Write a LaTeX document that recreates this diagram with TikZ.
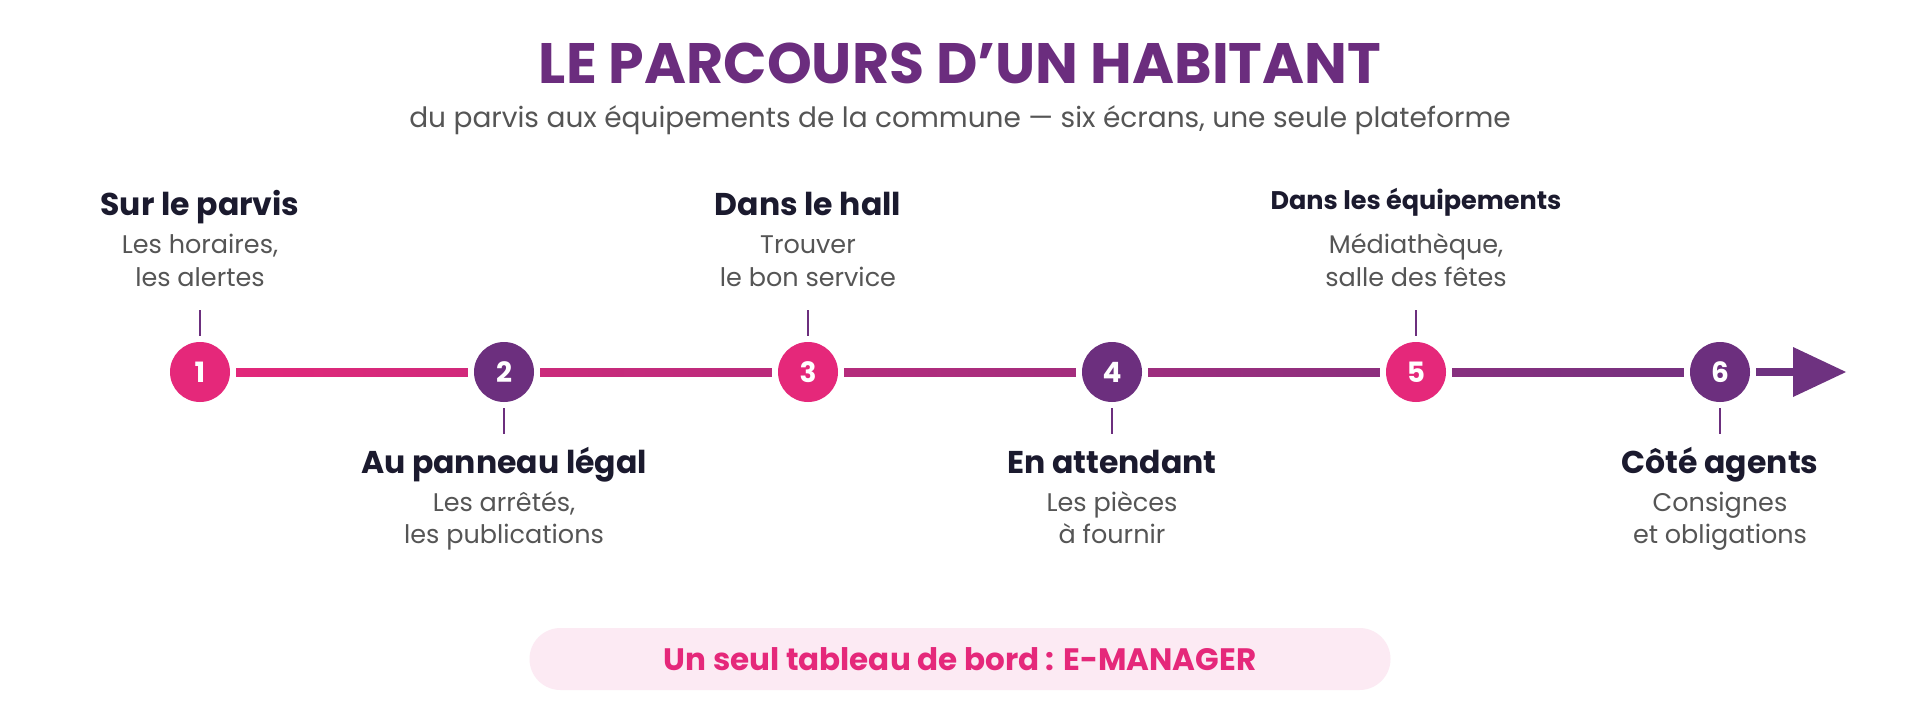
\documentclass[tikz,border=0pt]{standalone}
\usepackage{fontspec}
\setmainfont{Poppins}
\usetikzlibrary{calc}
\definecolor{brandpink}{RGB}{229,40,122}
\definecolor{brandpurple}{RGB}{108,47,126}
\definecolor{barpink}{RGB}{226,40,122}
\definecolor{barpurple}{RGB}{110,50,128}
\definecolor{titlepurple}{RGB}{107,45,126}
\definecolor{inkdark}{RGB}{27,26,46}
\definecolor{inkgray}{RGB}{85,85,85}
\definecolor{pillfill}{RGB}{252,234,243}
\tikzset{
  stepdot/.style={circle, minimum size=60pt, inner sep=0pt, text=white, font=\bfseries\fontsize{28}{30}\selectfont},
  pinkdot/.style={stepdot, fill=brandpink},
  purpledot/.style={stepdot, fill=brandpurple},
  steptitle/.style={anchor=base, text=inkdark, font=\bfseries\fontsize{31.5}{34}\selectfont, inner sep=0pt},
  smalltitle/.style={steptitle, font=\bfseries\fontsize{25.5}{28}\selectfont},
  stepdesc/.style={anchor=base, text=inkgray, font=\fontsize{25.5}{28}\selectfont, inner sep=0pt},
  ticker/.style={draw=brandpurple, line width=2.5pt},
}
\begin{document}
\begin{tikzpicture}[x=1pt,y=-1pt]
\useasboundingbox[fill=white] (0,0) rectangle (1920,720);

% title
\node[anchor=base, text=titlepurple, font=\bfseries\fontsize{57}{60}\selectfont, inner sep=0pt] (title) at (960,83) {LE PARCOURS D’UN HABITANT};
\node[anchor=base, text=inkgray, font=\fontsize{28}{31}\selectfont, inner sep=0pt] (subtitle) at (960,127) {du parvis aux équipements de la commune — six écrans, une seule plateforme};

% circles
\node[pinkdot]   (c1) at (200,372)  {1};
\node[purpledot] (c2) at (504,372)  {2};
\node[pinkdot]   (c3) at (808,372)  {3};
\node[purpledot] (c4) at (1112,372) {4};
\node[pinkdot]   (c5) at (1416,372) {5};
\node[purpledot] (c6) at (1720,372) {6};
\coordinate (ab) at (1793,372);
\coordinate (tip) at (1846,372);

% bar segments
\shade[left color=barpink!100!barpurple, right color=barpink!85!barpurple] ($(c1.east)+(6,-4)$) rectangle ($(c2.west)+(-6,4)$);
\shade[left color=barpink!80!barpurple, right color=barpink!66!barpurple] ($(c2.east)+(6,-4)$) rectangle ($(c3.west)+(-6,4)$);
\shade[left color=barpink!61!barpurple, right color=barpink!46!barpurple] ($(c3.east)+(6,-4)$) rectangle ($(c4.west)+(-6,4)$);
\shade[left color=barpink!41!barpurple, right color=barpink!26!barpurple] ($(c4.east)+(6,-4)$) rectangle ($(c5.west)+(-6,4)$);
\shade[left color=barpink!22!barpurple, right color=barpink!7!barpurple] ($(c5.east)+(6,-4)$) rectangle ($(c6.west)+(-6,4)$);
\fill[barpurple] ($(c6.east)+(6,-4)$) rectangle ($(ab)+(0,4)$);
\fill[barpurple] ($(ab)+(0,-25)$) -- (tip) -- ($(ab)+(0,25)$) -- cycle;

% ticks
\draw[ticker] (200,310) -- (200,336);
\draw[ticker] (808,310) -- (808,336);
\draw[ticker] (1416,310) -- (1416,336);
\draw[ticker] (504,408) -- (504,434);
\draw[ticker] (1112,408) -- (1112,434);
\draw[ticker] (1720,408) -- (1720,434);

% top labels
\node[steptitle] (t1) at (200,215) {Sur le parvis};
\node[stepdesc] (d1a) at (200,253) {Les horaires,};
\node[stepdesc] (d1b) at (200,286) {les alertes};

\node[steptitle] (t3) at (808,215) {Dans le hall};
\node[stepdesc] (d3a) at (808,253) {Trouver};
\node[stepdesc] (d3b) at (808,286) {le bon service};

\node[smalltitle] (t5) at (1416,209) {Dans les équipements};
\node[stepdesc] (d5a) at (1416,253) {Médiathèque,};
\node[stepdesc] (d5b) at (1416,286) {salle des fêtes};

% bottom labels
\node[steptitle] (t2) at (504,473) {Au panneau légal};
\node[stepdesc] (d2a) at (504,511) {Les arrêtés,};
\node[stepdesc] (d2b) at (504,543) {les publications};

\node[steptitle] (t4) at (1112,473) {En attendant};
\node[stepdesc] (d4a) at (1112,511) {Les pièces};
\node[stepdesc] (d4b) at (1112,543) {à fournir};

\node[steptitle] (t6) at (1720,473) {Côté agents};
\node[stepdesc] (d6a) at (1720,511) {Consignes};
\node[stepdesc] (d6b) at (1720,543) {et obligations};

% pill
\node[rounded corners=31pt, fill=pillfill, minimum width=861pt, minimum height=62pt, text=brandpink, font=\bfseries\fontsize{31}{34}\selectfont] (pill) at (960,659) {Un seul tableau de bord : E-MANAGER};
\end{tikzpicture}
\end{document}
